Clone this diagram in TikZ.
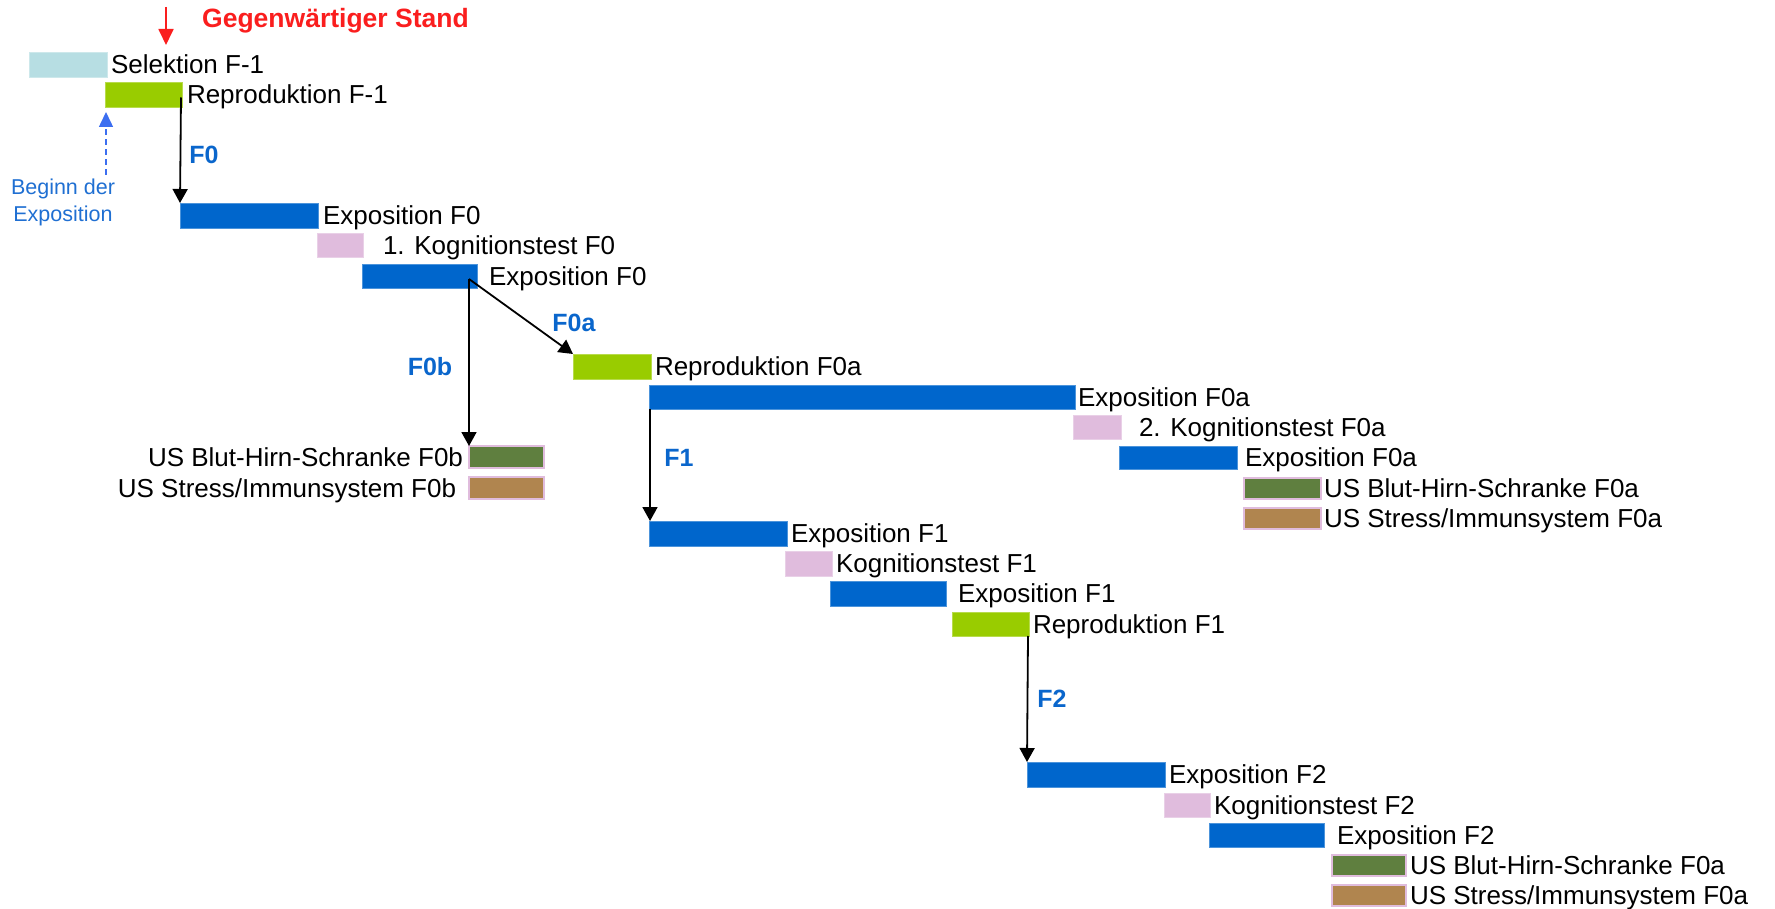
\documentclass[tikz,border=0pt]{standalone}
\usepackage{fontspec}
\setmainfont{Liberation Sans}
\usetikzlibrary{arrows.meta}
\definecolor{selcol}{RGB}{183,222,227}
\definecolor{grn}{RGB}{153,204,0}
\definecolor{blu}{RGB}{0,102,204}
\definecolor{pnk}{RGB}{224,188,221}
\definecolor{olv}{RGB}{95,127,63}
\definecolor{brn}{RGB}{176,133,79}
\definecolor{lblue}{RGB}{10,102,204}
\definecolor{bgblue}{RGB}{31,111,210}
\definecolor{dashblue}{RGB}{60,110,240}
\definecolor{redc}{RGB}{250,30,30}
\tikzset{
  bar/.style={fill=#1, draw=#1!70!white, line width=0.8pt, inner sep=0pt, outer sep=0pt, anchor=north west},
  usbar/.style={fill=#1, draw=pnk, line width=2pt, inner sep=0pt, outer sep=0pt, anchor=north west},
  lbl/.style={inner sep=0pt, outer sep=0pt, font=\fontsize{26}{30}\selectfont, text=black},
  flbl/.style={inner sep=0pt, font=\fontsize{25}{28}\selectfont\bfseries, text=lblue},
  arr/.style={line width=1.8pt, -{Triangle[width=15pt,length=14pt]}},
}
\begin{document}
\begin{tikzpicture}[x=1pt,y=-1pt]
\useasboundingbox (0,0) rectangle (1775,909);
% bars
\node[bar=selcol, minimum width=78pt, minimum height=25pt] (sel) at (29,52) {};
\node[bar=grn, minimum width=77pt, minimum height=25pt] (rf1) at (105,82) {};
\node[bar=blu, minimum width=138pt, minimum height=25pt] (e0) at (180,203) {};
\node[bar=pnk, minimum width=46pt, minimum height=24pt] (k0) at (317,233) {};
\node[bar=blu, minimum width=115pt, minimum height=24pt] (e0b) at (362,264) {};
\node[bar=grn, minimum width=78pt, minimum height=25pt] (r0a) at (573,354) {};
\node[bar=blu, minimum width=426pt, minimum height=24pt] (e0a) at (649,385) {};
\node[bar=pnk, minimum width=48pt, minimum height=24pt] (k0a) at (1073,415) {};
\node[bar=blu, minimum width=118pt, minimum height=23pt] (e0a2) at (1119,446) {};
\node[usbar=olv, minimum width=75pt, minimum height=22pt] (ubb) at (469,446) {};
\node[usbar=brn, minimum width=75pt, minimum height=22pt] (usb) at (469,477) {};
\node[usbar=olv, minimum width=77pt, minimum height=21pt] (uba) at (1244,478) {};
\node[usbar=brn, minimum width=77pt, minimum height=21pt] (usa) at (1244,508) {};
\node[bar=blu, minimum width=138pt, minimum height=25pt] (e1) at (649,521) {};
\node[bar=pnk, minimum width=47pt, minimum height=25pt] (k1) at (785,551) {};
\node[bar=blu, minimum width=116pt, minimum height=25pt] (e1b) at (830,581) {};
\node[bar=grn, minimum width=77pt, minimum height=24pt] (r1) at (952,612) {};
\node[bar=blu, minimum width=138pt, minimum height=25pt] (e2) at (1027,762) {};
\node[bar=pnk, minimum width=46pt, minimum height=24pt] (k2) at (1164,793) {};
\node[bar=blu, minimum width=115pt, minimum height=24pt] (e2b) at (1209,823) {};
\node[usbar=olv, minimum width=74pt, minimum height=21pt] (ub2) at (1332,855) {};
\node[usbar=brn, minimum width=74pt, minimum height=21pt] (us2) at (1332,885) {};
% labels
\node[lbl, anchor=base west] (tsel) at ([xshift=4pt,yshift=-9.3pt]sel.east) {Selektion F-1};
\node[lbl, anchor=base west] (trf1) at ([xshift=5pt,yshift=-9.3pt]rf1.east) {Reproduktion F-1};
\node[lbl, anchor=base west] (te0) at ([xshift=5pt,yshift=-9.3pt]e0.east) {Exposition F0};
\node[lbl, anchor=base west] (tk0) at ([xshift=20pt,yshift=-9.3pt]k0.east) {1. Kognitionstest F0};
\node[lbl, anchor=base west] (te0b) at ([xshift=12pt,yshift=-9.3pt]e0b.east) {Exposition F0};
\node[lbl, anchor=base west] (tr0a) at ([xshift=4pt,yshift=-9.3pt]r0a.east) {Reproduktion F0a};
\node[lbl, anchor=base west] (te0a) at ([xshift=3pt,yshift=-9.3pt]e0a.east) {Exposition F0a};
\node[lbl, anchor=base west] (tk0a) at ([xshift=18pt,yshift=-9.3pt]k0a.east) {2. Kognitionstest F0a};
\node[lbl, anchor=base west] (te0a2) at ([xshift=8pt,yshift=-9.3pt]e0a2.east) {Exposition F0a};
\node[lbl, anchor=base east] (tubb) at ([xshift=-6pt,yshift=-9.3pt]ubb.west) {US Blut-Hirn-Schranke F0b};
\node[lbl, anchor=base east] (tusb) at ([xshift=-13pt,yshift=-9.3pt]usb.west) {US Stress/Immunsystem F0b};
\node[lbl, anchor=base west] (tuba) at ([xshift=3pt,yshift=-9.3pt]uba.east) {US Blut-Hirn-Schranke F0a};
\node[lbl, anchor=base west] (tusa) at ([xshift=3pt,yshift=-9.3pt]usa.east) {US Stress/Immunsystem F0a};
\node[lbl, anchor=base west] (te1) at ([xshift=4pt,yshift=-9.3pt]e1.east) {Exposition F1};
\node[lbl, anchor=base west] (tk1) at ([xshift=4pt,yshift=-9.3pt]k1.east) {Kognitionstest F1};
\node[lbl, anchor=base west] (te1b) at ([xshift=12pt,yshift=-9.3pt]e1b.east) {Exposition F1};
\node[lbl, anchor=base west] (tr1) at ([xshift=4pt,yshift=-9.3pt]r1.east) {Reproduktion F1};
\node[lbl, anchor=base west] (te2) at ([xshift=4pt,yshift=-9.3pt]e2.east) {Exposition F2};
\node[lbl, anchor=base west] (tk2) at ([xshift=4pt,yshift=-9.3pt]k2.east) {Kognitionstest F2};
\node[lbl, anchor=base west] (te2b) at ([xshift=13pt,yshift=-9.3pt]e2b.east) {Exposition F2};
\node[lbl, anchor=base west] (tub2) at ([xshift=4pt,yshift=-9.3pt]ub2.east) {US Blut-Hirn-Schranke F0a};
\node[lbl, anchor=base west] (tus2) at ([xshift=4pt,yshift=-9.3pt]us2.east) {US Stress/Immunsystem F0a};
% generation labels
\node[flbl] (lf0) at (204,155) {F0};
\node[flbl] (lf0b) at (430,367) {F0b};
\node[flbl] (lf0a) at (574,323) {F0a};
\node[flbl] (lf1) at (679,458) {F1};
\node[flbl] (lf2) at (1052,699) {F2};
% current state
\node[inner sep=0pt, anchor=base west, font=\fontsize{26.5}{30}\selectfont\bfseries, text=redc] (stand) at (202,28) {Gegenwärtiger Stand};
\coordinate (rtop) at (166,7);
\coordinate (rtip) at (166,45);
\draw[line width=1.8pt, redc, -{Triangle[width=15pt,length=16pt]}] (rtop) -- (rtip);
% begin of exposition
\node[inner sep=0pt, align=center, font=\fontsize{21.5}{27}\selectfont, text=bgblue, anchor=base] (beg) at (63,222) {Beginn der\\Exposition};
\coordinate (bstart) at (106,175);
\draw[line width=1.5pt, dashblue, dash pattern=on 6pt off 4pt, -{Triangle[width=14pt,length=15pt]}] (bstart) -- ([xshift=1pt,yshift=-5pt]rf1.south west);
% connectors
\coordinate (split) at ([xshift=-8pt,yshift=-3pt]e0b.east);
\draw[arr] ([xshift=-1pt,yshift=-3pt]rf1.east) -- (e0.north west);
\draw[arr] (split) -- (ubb.north west);
\draw[arr] (split) -- (r0a.north west);
\draw[arr] ([xshift=1pt]e0a.south west) -- ([xshift=1pt]e1.north west);
\draw[arr] ([xshift=-1pt]r1.south east) -- (e2.north west);
\end{tikzpicture}
\end{document}
